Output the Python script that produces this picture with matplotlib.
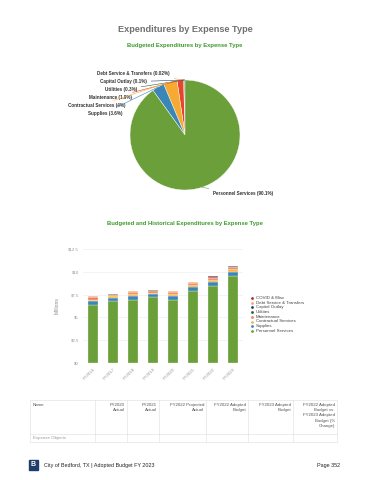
import numpy as np
import matplotlib.pyplot as plt
from matplotlib.patches import Rectangle

plt.rcParams['font.family'] = ['Liberation Sans', 'DejaVu Sans']

W, H = 370, 480

# pie data (FY2023 adopted budget, % of total)
pie_labels = ['Debt Service & Transfers', 'Capital Outlay', 'Utilities', 'Maintenance',
              'Contractual Services', 'Supplies', 'Personnel Services']
pie_pct = [0.02, 0.1, 0.3, 1.9, 4.0, 3.6, 90.1]
pie_pct_txt = ['0.02%', '0.1%', '0.3%', '1.9%', '4%', '3.6%', '90.1%']
pie_colors = ['#f0a04b', '#22406e', '#2e6131', '#e8432c', '#f6aa32', '#3a86b7', '#6b9f3a']

# bar data, $ millions
years = ['FY2016', 'FY2017', 'FY2018', 'FY2019', 'FY2020', 'FY2021', 'FY2022', 'FY2023']
personnel = [6.4, 6.75, 6.9, 7.2, 6.9, 7.85, 8.4, 9.5]
supplies = [0.35, 0.4, 0.5, 0.35, 0.4, 0.45, 0.45, 0.45]
contractual = [0.2, 0.15, 0.2, 0.15, 0.25, 0.2, 0.3, 0.4]
maintenance = [0.25, 0.2, 0.15, 0.15, 0.2, 0.25, 0.15, 0.2]
utilities = [0.03, 0.03, 0.03, 0.1, 0.03, 0.03, 0.05, 0.03]
capital = [0.02, 0.02, 0.02, 0.05, 0.02, 0.02, 0.05, 0.01]
debt = [0.05, 0.05, 0.05, 0.0, 0.05, 0.05, 0.05, 0.01]
covid = [0.0, 0.0, 0.0, 0.05, 0.0, 0.0, 0.05, 0.0]

series = [('Personnel Services', personnel, '#6b9f3a'),
          ('Supplies', supplies, '#3a86b7'),
          ('Contractual Services', contractual, '#f8b54f'),
          ('Maintenance', maintenance, '#f27d5e'),
          ('Utilities', utilities, '#2e6131'),
          ('Capital Outlay', capital, '#22406e'),
          ('Debt Service & Transfers', debt, '#f5a66a'),
          ('COVID & Misc', covid, '#b8282a')]

ycats = ['Name', 'FY2020\nActual', 'FY2021\nActual', 'FY2022 Projected\nActual',
         'FY2022 Adopted\nBudget', 'FY2023 Adopted\nBudget',
         'FY2022 Adopted\nBudget vs.\nFY2023 Adopted\nBudget (%\nChange)']


def box(x, y, w, h):
    # pixel box (top-left origin) -> figure fraction
    return [x / W, 1 - (y + h) / H, w / W, h / H]


fig = plt.figure(figsize=(W / 100, H / 100), dpi=100)

# page overlay for text and table
pg = fig.add_axes([0, 0, 1, 1])
pg.set_xlim(0, W)
pg.set_ylim(H, 0)
pg.axis('off')

pg.text(185, 30, 'Expenditures by Expense Type', ha='center', va='center',
        fontsize=6.6, color='#707070', fontweight='bold')
pg.text(185, 45, 'Budgeted Expenditures by Expense Type', ha='center', va='center',
        fontsize=4.2, color='#3e9a2c', fontweight='bold')
pg.text(185, 224, 'Budgeted and Historical Expenditures by Expense Type', ha='center',
        va='center', fontsize=4.2, color='#3e9a2c', fontweight='bold')

# pie
ax = fig.add_axes(box(130, 80, 110, 110))
wedges, _ = ax.pie(pie_pct, colors=pie_colors, startangle=90, counterclock=True,
                   wedgeprops=dict(linewidth=0.3, edgecolor='white'))
ax.set_xlim(-1, 1)
ax.set_ylim(-1, 1)
ax.set_aspect('equal')

label_pos = [(170, 74), (147, 82), (137, 90), (132, 98), (125, 106), (122, 113), (213, 194)]
for w, name, txt, (lx, ly) in zip(wedges, pie_labels, pie_pct_txt, label_pos):
    ang = np.deg2rad((w.theta1 + w.theta2) / 2)
    xe, ye = np.cos(ang), np.sin(ang)
    left = lx < 185
    ha = 'right' if left else 'left'
    ax.annotate(f'{name} ({txt})', xy=(xe, ye),
                xytext=(lx, H - ly), textcoords='figure pixels',
                ha=ha, va='center', fontsize=3.3, fontweight='bold', color='#333333',
                arrowprops=dict(arrowstyle='-', color=w.get_facecolor(), lw=0.4,
                                shrinkA=1, shrinkB=0))

# stacked bars
bx = fig.add_axes(box(83, 249, 160, 114))
x = np.arange(len(years))
bottom = np.zeros(len(years))
for name, vals, col in series:
    bx.bar(x, vals, 0.47, bottom=bottom, color=col, edgecolor='white', linewidth=0.2)
    bottom += np.array(vals)
bx.set_xlim(-0.5, 7.5)
bx.set_ylim(0, 12.5)
bx.set_yticks([0, 2.5, 5, 7.5, 10, 12.5])
bx.set_yticklabels(['$0', '$2.5', '$5', '$7.5', '$10', '$12.5'])
bx.set_xticks(x)
bx.set_xticklabels(years, rotation=45, ha='right', rotation_mode='anchor')
bx.tick_params(labelsize=3.2, colors='#999999', length=0, pad=3)
bx.grid(axis='y', color='#eeeeee', lw=0.5)
bx.set_axisbelow(True)
for s in bx.spines.values():
    s.set_visible(False)
bx.set_ylabel('Millions', fontsize=3.6, color='#888888', labelpad=6)

for i, (name, vals, col) in enumerate(reversed(series)):
    yy = 298 + i * 4.7
    pg.scatter(252, yy, s=4, color=col, lw=0)
    pg.text(256, yy, name, fontsize=3.2, va='center', ha='left', color='#444444')

# table
tl, tr, tt, tb, tm = 30, 337, 400, 442, 434
pg.add_patch(Rectangle((tl, tt), tr - tl, tb - tt, fill=False, ec='#dddddd', lw=0.4))
pg.plot([tl, tr], [tm, tm], color='#dddddd', lw=0.4)
cols = [95, 127, 159, 206, 248, 293]
for c in cols:
    pg.plot([c, c], [tt, tb], color='#dddddd', lw=0.4)
rights = [c - 2 for c in cols[1:]] + [tr - 2]
pg.text(tl + 3, tt + 3, ycats[0], fontsize=3.2, va='top', ha='left', color='#555555')
for txt, r in zip(ycats[1:], rights):
    pg.text(r, tt + 3, txt, fontsize=3.2, va='top', ha='right', color='#555555',
            linespacing=1.4)
pg.text(tl + 3, 438, 'Expense Objects', fontsize=3.2, va='center', ha='left', color='#999999')

# footer
pg.add_patch(Rectangle((29, 460), 9, 10, color='#1f3d6b'))
pg.text(33.5, 465, 'B', fontsize=5, color='white', fontweight='bold', ha='center', va='center')
pg.text(44, 465, 'City of Bedford, TX | Adopted Budget FY 2023', fontsize=3.9,
        va='center', ha='left', color='#222222')
pg.text(340, 465, 'Page 352', fontsize=3.9, va='center', ha='right', color='#222222')

fig.savefig('out.png', dpi=100)
